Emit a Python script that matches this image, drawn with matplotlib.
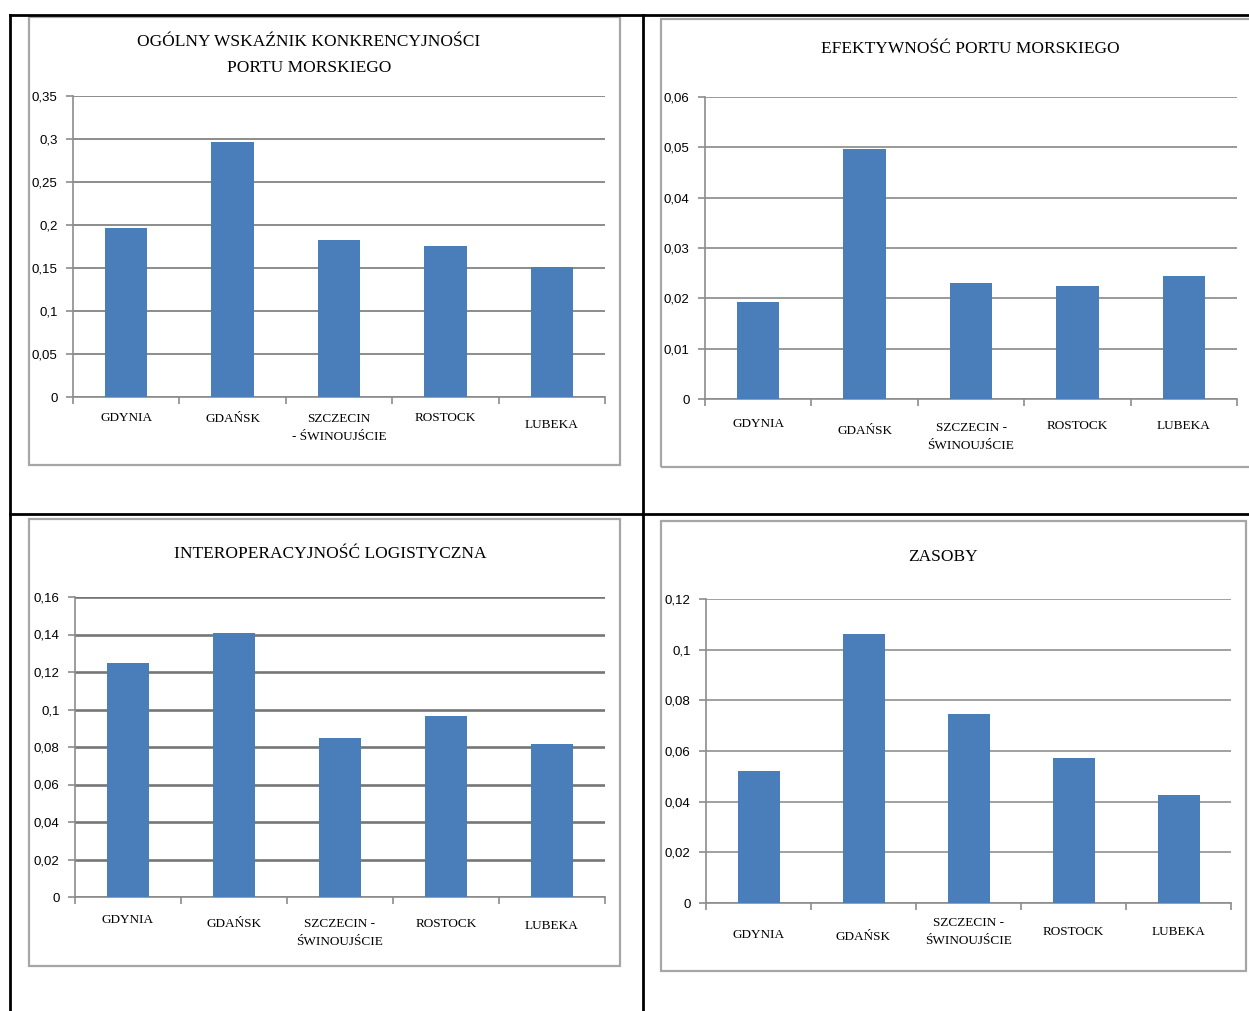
import matplotlib
matplotlib.use("Agg")
import matplotlib.pyplot as plt
from matplotlib.lines import Line2D
from matplotlib.patches import Rectangle
from matplotlib.ticker import MultipleLocator, FuncFormatter
import numpy as np

ports = ["GDYNIA", "GDAŃSK", "SZCZECIN -\nŚWINOUJŚCIE", "ROSTOCK", "LUBEKA"]
ports_tl = ["GDYNIA", "GDAŃSK", "SZCZECIN\n- ŚWINOUJŚCIE", "ROSTOCK", "LUBEKA"]

ogolny = [0.196, 0.297, 0.182, 0.176, 0.151]
efektywnosc = [0.0192, 0.0496, 0.0230, 0.0225, 0.0244]
interoperacyjnosc = [0.125, 0.141, 0.085, 0.0965, 0.0817]
zasoby = [0.052, 0.106, 0.0745, 0.0572, 0.0428]

title_ogolny = "OGÓLNY WSKAŹNIK KONKRENCYJNOŚCI\nPORTU MORSKIEGO"
title_efekt = "EFEKTYWNOŚĆ PORTU MORSKIEGO"
title_inter = "INTEROPERACYJNOŚĆ LOGISTYCZNA"
title_zasoby = "ZASOBY"

W, H = 1249, 1011
BLUE = "#4a7ebb"
SERIF = ["Liberation Serif", "DejaVu Serif"]
SANS = ["Liberation Sans Narrow", "Liberation Sans", "DejaVu Sans"]

fig = plt.figure(figsize=(W / 100, H / 100), dpi=100)


def fx(x):
    return x / W


def fy(y):
    return 1 - y / H


def box(x0, y0, x1, y1):
    fig.patches.append(Rectangle((fx(x0), fy(y1)), fx(x1 - x0), (y1 - y0) / H,
                                 transform=fig.transFigure, fill=False,
                                 edgecolor="#a6a6a6", linewidth=1.6))


def chart(rect, values, labels, ymax, step, grid_col, grid_lw, label_off):
    l, t, r, b = rect
    ax = fig.add_axes([fx(l), fy(b), fx(r - l), (b - t) / H])
    x = np.arange(len(values))
    ax.bar(x, values, width=0.4, color=BLUE, zorder=3)
    ax.set_xlim(-0.5, len(values) - 0.5)
    ax.set_ylim(0, ymax)
    ax.yaxis.set_major_locator(MultipleLocator(step))
    ax.yaxis.set_major_formatter(FuncFormatter(lambda v, p: ("%g" % round(v, 4)).replace(".", ",")))
    ax.grid(axis="y", color=grid_col, linewidth=grid_lw, zorder=0)
    for s in ["top", "right"]:
        ax.spines[s].set_visible(False)
    for s in ["left", "bottom"]:
        ax.spines[s].set_color("#8c8c8c")
        ax.spines[s].set_linewidth(1.2)
    ax.set_xticks(np.arange(len(values) + 1) - 0.5)
    ax.set_xticklabels([])
    ax.tick_params(axis="x", length=5, color="#8c8c8c", width=1.2)
    ax.tick_params(axis="y", length=5, color="#8c8c8c", width=1.2, pad=6)
    for tl in ax.get_yticklabels():
        tl.set_family(SANS)
        tl.set_fontsize(9.5)
    for i, lab in enumerate(labels):
        ax.annotate(lab, xy=(i, 0), xycoords=("data", "axes fraction"),
                    xytext=(0, -label_off[i]), textcoords="offset pixels",
                    ha="center", va="center", family=SERIF, fontsize=9.5,
                    linespacing=1.6)
    return ax


# table lines
for (x0, y0, x1, y1) in [(10, 15, 1249, 15), (10, 514, 1249, 514),
                         (10, 15, 10, 1011), (643, 15, 643, 1011)]:
    fig.add_artist(Line2D([fx(x0), fx(x1)], [fy(y0), fy(y1)], color="black",
                          linewidth=2, transform=fig.transFigure))

# chart frames
box(29, 17, 620, 465)
box(661, 19, 1252, 467)
box(29, 519, 620, 966)
box(661, 521, 1246, 971)

chart((73, 96, 605, 397), ogolny, ports_tl, 0.35, 0.05, "#8c8c8c", 1.4, [21, 22, 31, 21, 28])
chart((705, 97, 1237, 399), efektywnosc, ports, 0.06, 0.01, "#9a9a9a", 1.4, [25, 32, 38, 27, 27])
chart((75, 597, 605, 897), interoperacyjnosc, ports, 0.16, 0.02, "#767676", 1.9, [23, 27, 36, 27, 29])
chart((706, 599, 1231, 903), zasoby, ports, 0.12, 0.02, "#a0a0a0", 1.4, [32, 34, 29, 29, 29])

fig.text(fx(309), fy(55), title_ogolny, ha="center", va="center", family=SERIF,
         fontsize=12.5, linespacing=1.85)
fig.text(fx(970), fy(49), title_efekt, ha="center", va="center", family=SERIF, fontsize=12.5)
fig.text(fx(330), fy(554), title_inter, ha="center", va="center", family=SERIF, fontsize=12.5)
fig.text(fx(943), fy(557), title_zasoby, ha="center", va="center", family=SERIF, fontsize=12.5)

fig.savefig("out.png", dpi=100, facecolor="white")
